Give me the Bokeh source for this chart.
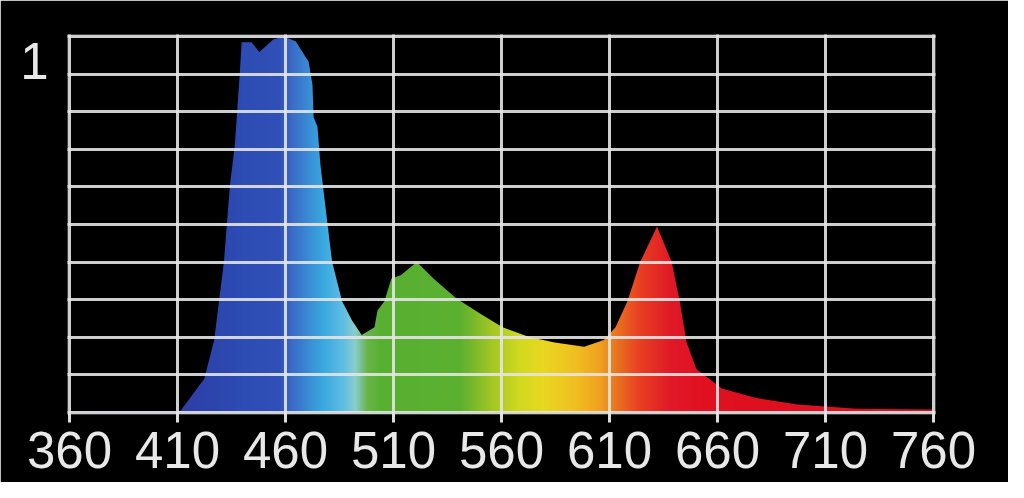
import numpy as np
from bokeh.plotting import figure
from bokeh.models import FixedTicker, LinearAxis, Range1d
from bokeh.embed import file_html
from bokeh.resources import INLINE

# ---- data ----
wavelength_nm = [360, 410, 411.5, 422.4, 427.0, 429.2, 431.5, 432.9, 434.3, 436.5, 438.8,
                 439.7, 444.3, 447.9, 454.3, 459.3, 464.8, 470.7, 472.5, 473.0, 474.8,
                 476.2, 479.4, 481.6, 486.2, 490.8, 495.3, 501.2, 502.6, 505.8, 509.0,
                 513.5, 520.8, 528.6, 539.0, 550.0, 560.5, 572.8, 584.6, 598.3, 607.4,
                 612.8, 618.3, 624.2, 632.0, 638.8, 642.5, 645.7, 650.2, 656.1, 662.0,
                 677.5, 697.1, 724.5, 760]
relative_intensity = [0.003, 0.003, 0.005, 0.090, 0.193, 0.296, 0.400, 0.503, 0.606, 0.709, 0.899,
                      0.985, 0.985, 0.959, 0.992, 1.000, 0.987, 0.933, 0.871, 0.786, 0.760,
                      0.657, 0.503, 0.400, 0.296, 0.245, 0.206, 0.227, 0.271, 0.296, 0.356,
                      0.366, 0.400, 0.356, 0.304, 0.263, 0.227, 0.201, 0.186, 0.175, 0.193,
                      0.227, 0.296, 0.400, 0.495, 0.400, 0.296, 0.186, 0.116, 0.090, 0.064,
                      0.039, 0.021, 0.010, 0.008]
x_ticks = [360, 410, 460, 510, 560, 610, 660, 710, 760]
y_grid_ticks = [0.0, 0.1, 0.2, 0.3, 0.4, 0.5, 0.6, 0.7, 0.8, 0.9, 1.0]
y_label_ticks = [1]

# ---- style: colour stops of the spectrum gradient ----
stop_nm = [360, 405, 415, 440, 457, 463, 477, 486, 492, 498, 504, 541, 556, 568, 579,
           594, 606, 614, 624, 639, 655, 760]
stop_hex = ["#5a3c9c", "#4a3aa0", "#2c40a8", "#2d4cb4", "#3050b8", "#3a6cc8", "#38a8e0",
            "#5cbce4", "#88cccc", "#68b448", "#58b030", "#5cb030", "#a4c824", "#d0d820",
            "#e8d820", "#f0c020", "#f0a020", "#e87020", "#e84020", "#e01828", "#e01020",
            "#d81020"]

# ---- layout ----
W, H = 1008, 482
PAD_PX = 2  # keeps the edge grid lines inside the frame
B_LEFT, B_RIGHT, B_TOP, B_BOTTOM = 69 - PAD_PX, 75 - PAD_PX, 36 - PAD_PX, 70 - PAD_PX
FRAME_W = W - B_LEFT - B_RIGHT
FRAME_H = H - B_TOP - B_BOTTOM
LABEL_DROP_PX = 24  # the "1" sits a little below the top grid line
FONT = "Liberation Sans"
FONT_SIZE = "51px"
TEXT_COLOR = "#e8e8e8"
GRID_COLOR = "#e4e4e4"

x_span = x_ticks[-1] - x_ticks[0]
x_pad = PAD_PX * x_span / (FRAME_W - 2 * PAD_PX)
y_pad = PAD_PX * 1.0 / (FRAME_H - 2 * PAD_PX)

p = figure(width=W, height=H,
           x_range=Range1d(x_ticks[0] - x_pad, x_ticks[-1] + x_pad),
           y_range=Range1d(y_grid_ticks[0] - y_pad, y_grid_ticks[-1] + y_pad),
           output_backend="svg", toolbar_location=None,
           background_fill_color="black", border_fill_color="black",
           min_border_left=B_LEFT, min_border_right=B_RIGHT,
           min_border_top=B_TOP, min_border_bottom=B_BOTTOM)
p.outline_line_color = None

# gradient strip (colour only), masked above the curve
cols = np.arange(x_ticks[0], x_ticks[-1] + 1, dtype=float)
rgb = np.array([[int(h[i:i + 2], 16) for i in (1, 3, 5)] for h in stop_hex], dtype=float)
img = np.zeros((1, len(cols)), dtype=np.uint32)
view = img.view(dtype=np.uint8).reshape((1, len(cols), 4))
for c in range(3):
    view[0, :, c] = np.interp(cols, stop_nm, rgb[:, c]).astype(np.uint8)
view[0, :, 3] = 255
p.image_rgba(image=[img], x=x_ticks[0], y=0, dw=x_span, dh=1)

p.varea(x=wavelength_nm, y1=relative_intensity, y2=[1.0] * len(wavelength_nm),
        fill_color="black")

# grid over the spectrum
p.xgrid.ticker = FixedTicker(ticks=x_ticks)
p.ygrid.ticker = FixedTicker(ticks=y_grid_ticks)
for g in (p.xgrid[0], p.ygrid[0]):
    g.level = "overlay"
    g.grid_line_color = GRID_COLOR
    g.grid_line_alpha = 0.9
    g.grid_line_width = 3

p.yaxis.visible = False

ax = p.xaxis[0]
ax.ticker = FixedTicker(ticks=x_ticks)
ax.axis_line_color = None
ax.major_tick_in = PAD_PX
ax.major_tick_out = 8
ax.major_tick_line_color = "#dddddd"
ax.major_tick_line_width = 3
ax.minor_tick_line_color = None
ax.major_label_standoff = 11 - PAD_PX
ax.major_label_text_font = FONT
ax.major_label_text_font_size = FONT_SIZE
ax.major_label_text_color = TEXT_COLOR

# the lone "1" label at the top left
p.extra_y_ranges = {"one": Range1d(0, FRAME_H / (FRAME_H - PAD_PX - LABEL_DROP_PX))}
one_axis = LinearAxis(y_range_name="one", ticker=FixedTicker(ticks=y_label_ticks),
                      axis_line_color=None, major_tick_line_color=None,
                      minor_tick_line_color=None, major_label_standoff=15 - PAD_PX,
                      major_label_text_font=FONT, major_label_text_font_size=FONT_SIZE,
                      major_label_text_color=TEXT_COLOR)
p.add_layout(one_axis, "left")

html = file_html(p, INLINE)
html = html.replace("<body>", '<body style="background:#c8c8c8">', 1)
open("out.html", "w").write(html)
